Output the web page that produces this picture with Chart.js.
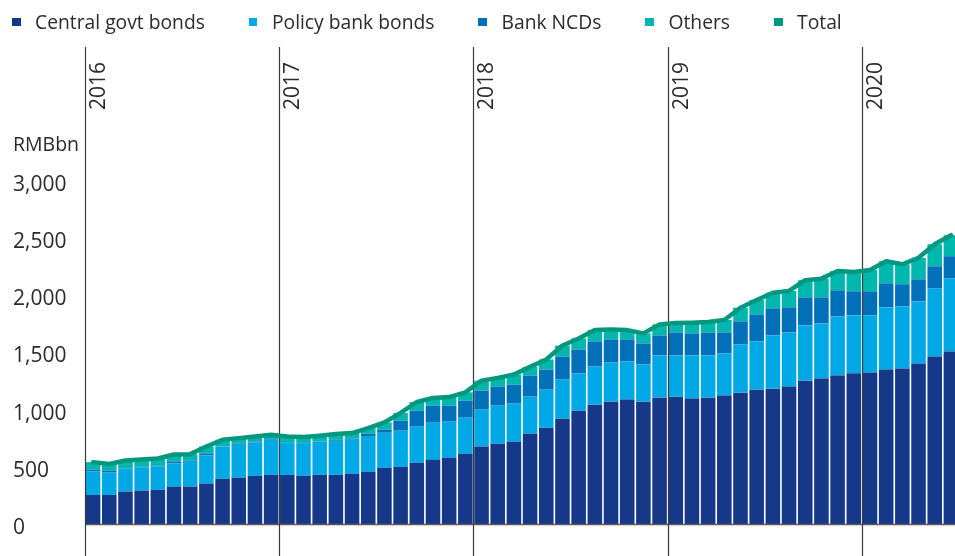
<!DOCTYPE html>
<html>
<head>
<meta charset="utf-8">
<title>China bond holdings</title>
<script src="https://cdn.jsdelivr.net/npm/chart.js@4.4.1/dist/chart.umd.min.js"></script>
<style>
  html, body { margin: 0; padding: 0; background: #fff; overflow: hidden; width: 955px; height: 556px; }
  #wrap { position: relative; width: 959px; height: 556px; }
  #legend { position: absolute; left: 12px; top: 10px; display: flex; align-items: center;
            font-family: 'Open Sans', sans-serif; font-size: 19.3px; line-height: 24px; color: #2b2b2b; white-space: nowrap; }
  .item { display: flex; align-items: center; margin-right: 44px; }
  .sw { width: 8.5px; height: 8.5px; margin-right: 14.5px; }
</style>
</head>
<body>
<div id="wrap">
  <canvas id="chart" width="959" height="556"></canvas>
  <div id="legend"></div>
</div>
<script>
// Monthly holdings, RMB bn, Jan 2016 – Jun 2020
const years = ['2016', '2017', '2018', '2019', '2020'];
const monthsPerYear = [12, 12, 12, 12, 6];

const centralGovt = [
  254, 254, 284, 292, 298, 327, 327, 354, 395, 406, 421, 430,
  430, 421, 430, 430, 439, 456, 491, 500, 535, 561, 579, 614,
  678, 702, 719, 789, 842, 921, 991, 1044, 1070, 1088, 1070, 1105,
  1114, 1097, 1105, 1123, 1149, 1175, 1184, 1202, 1254, 1272, 1298, 1319,
  1325, 1351, 1360, 1404, 1465, 1509
];
const policyBank = [
  205, 196, 198, 202, 205, 202, 217, 245, 283, 287, 292, 307,
  278, 287, 292, 298, 298, 307, 307, 316, 316, 325, 316, 316,
  322, 333, 334, 325, 333, 342, 325, 333, 342, 333, 325, 369,
  360, 377, 369, 368, 421, 422, 465, 473, 483, 482, 518, 506,
  500, 544, 544, 543, 596, 640
];
const bankNCDs = [
  15, 18, 3, 6, 6, 18, 9, 18, 2, 9, 9, 6,
  2, 2, 2, 9, 9, 26, 27, 88, 140, 149, 140, 149,
  167, 167, 166, 184, 176, 202, 210, 220, 202, 193, 184, 175,
  201, 193, 201, 184, 202, 236, 237, 220, 245, 228, 228, 210,
  210, 210, 193, 193, 193, 193
];
const others = [
  67, 57, 70, 64, 64, 61, 58, 61, 57, 49, 44, 38,
  56, 50, 48, 50, 49, 50, 64, 67, 76, 67, 75, 73,
  87, 76, 88, 76, 88, 96, 97, 99, 88, 82, 88, 97,
  82, 93, 91, 109, 120, 126, 137, 143, 150, 164, 169, 170,
  187, 193, 175, 188, 193, 184
];
const total = [
  541, 525, 555, 564, 573, 608, 611, 678, 737, 751, 766, 781,
  766, 760, 772, 787, 795, 839, 889, 971, 1067, 1102, 1110, 1152,
  1254, 1278, 1307, 1374, 1439, 1561, 1623, 1696, 1702, 1696, 1667, 1746,
  1757, 1760, 1766, 1784, 1892, 1959, 2023, 2038, 2132, 2146, 2213, 2205,
  2222, 2298, 2272, 2328, 2447, 2526
];
const yTicks = [0, 500, 1000, 1500, 2000, 2500, 3000];
const unitLabel = 'RMBbn';

// category labels: one per month
const categories = [];
years.forEach((y, i) => {
  for (let m = 1; m <= monthsPerYear[i]; m++) categories.push(y + '-' + String(m).padStart(2, '0'));
});

const COLORS = {
  central: '#163888',
  policy: '#00A9E5',
  ncd: '#0070B9',
  others: '#00B7AE',
  total: '#00977F'
};
const FONT = "'Open Sans', sans-serif";
const TEXT = '#2b2b2b';

function barSet(label, data, color) {
  return { type: 'bar', label, data, backgroundColor: color, borderWidth: 0, stack: 'holdings', order: 1 };
}

// year dividers, baseline, year captions and unit label
const decor = {
  id: 'decor',
  beforeDatasetDraw(chart, args) {
    if (args.meta.type !== 'line') return;
    const { ctx, chartArea } = chart;
    const xs = chart.scales.x;
    const step = xs.width / categories.length;
    ctx.save();
    // baseline
    ctx.strokeStyle = '#5a5a5a';
    ctx.lineWidth = 1.6;
    ctx.beginPath();
    ctx.moveTo(chartArea.left, chartArea.bottom + 0.5);
    ctx.lineTo(chartArea.right, chartArea.bottom + 0.5);
    ctx.stroke();
    // year dividers at the start of each January
    ctx.strokeStyle = '#3a3a3a';
    ctx.lineWidth = 1.2;
    let idx = 0;
    years.forEach((y, i) => {
      const x = Math.round(xs.getPixelForValue(idx) - step / 2) + 0.5;
      ctx.beginPath();
      ctx.moveTo(x, 47);
      ctx.lineTo(x, chart.height);
      ctx.stroke();
      idx += monthsPerYear[i];
    });
    ctx.restore();
  },
  afterDraw(chart) {
    const { ctx } = chart;
    const xs = chart.scales.x;
    const step = xs.width / categories.length;
    ctx.save();
    ctx.fillStyle = TEXT;
    ctx.font = '21px ' + FONT;
    // vertical year captions
    let idx = 0;
    years.forEach((y, i) => {
      const x = xs.getPixelForValue(idx) - step / 2;
      ctx.save();
      ctx.translate(x + 20, 110);
      ctx.rotate(-Math.PI / 2);
      ctx.textAlign = 'left';
      ctx.textBaseline = 'alphabetic';
      ctx.fillText(y, 0, 0);
      ctx.restore();
      idx += monthsPerYear[i];
    });
    // unit label above the value axis
    ctx.font = '19.5px ' + FONT;
    ctx.textAlign = 'left';
    ctx.textBaseline = 'middle';
    ctx.fillText(unitLabel, 13, 145);
    ctx.restore();
  }
};

const chart = new Chart(document.getElementById('chart'), {
  type: 'bar',
  data: {
    labels: categories,
    datasets: [
      barSet('Central govt bonds', centralGovt, COLORS.central),
      barSet('Policy bank bonds', policyBank, COLORS.policy),
      barSet('Bank NCDs', bankNCDs, COLORS.ncd),
      barSet('Others', others, COLORS.others),
      {
        type: 'line', label: 'Total', data: total, stack: 'total', order: 0,
        borderColor: COLORS.total, backgroundColor: COLORS.total, borderWidth: 4.5,
        pointRadius: 0, tension: 0, borderJoinStyle: 'round', borderCapStyle: 'round', fill: false
      }
    ]
  },
  options: {
    responsive: false,
    animation: false,
    devicePixelRatio: 1,
    layout: { padding: { top: 181, bottom: 32, left: 13, right: 0 } },
    datasets: { bar: { barPercentage: 0.9, categoryPercentage: 1 } },
    plugins: { legend: { display: false }, tooltip: { enabled: false } },
    scales: {
      x: { display: false, stacked: true },
      y: {
        stacked: true, min: 0, max: 3000,
        grid: { display: false }, border: { display: false },
        afterBuildTicks(s) { s.ticks = yTicks.map(v => ({ value: v })); },
        afterFit(s) { s.width = 72; },
        ticks: {
          crossAlign: 'far', padding: 0, labelOffset: 4, color: TEXT,
          font: { family: FONT, size: 21 },
          callback: v => v.toLocaleString('en-US')
        }
      }
    }
  },
  plugins: [decor]
});

// legend built from the chart's datasets
const legend = document.getElementById('legend');
chart.data.datasets.forEach(ds => {
  const item = document.createElement('div');
  item.className = 'item';
  const sw = document.createElement('span');
  sw.className = 'sw';
  sw.style.background = ds.backgroundColor;
  const txt = document.createElement('span');
  txt.textContent = ds.label;
  item.appendChild(sw);
  item.appendChild(txt);
  legend.appendChild(item);
});
</script>
</body>
</html>
